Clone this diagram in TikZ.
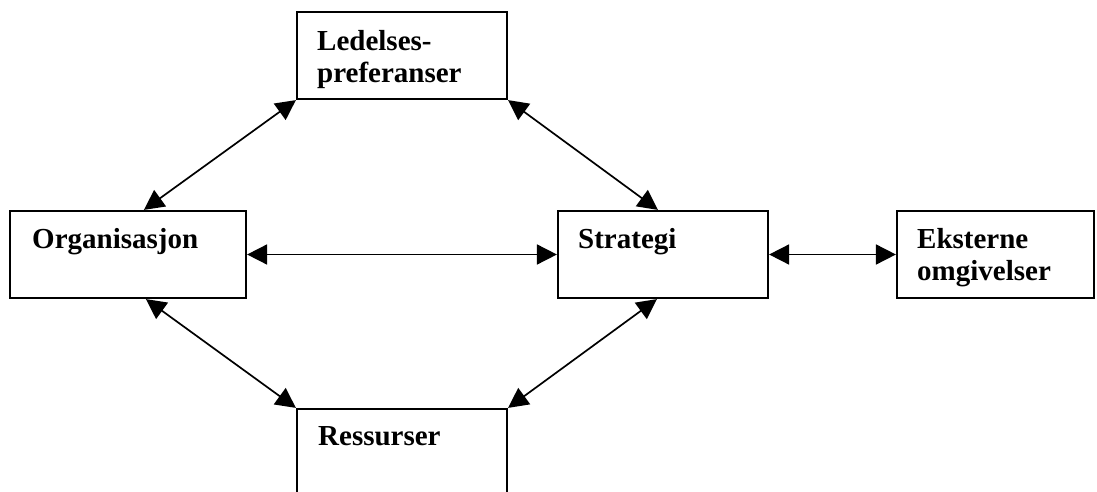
\documentclass[tikz,border=0pt]{standalone}
\usepackage{fontspec}
\setmainfont{Liberation Serif}
\usetikzlibrary{arrows.meta,calc}
\begin{document}
\begin{tikzpicture}[x=1pt,y=-1pt,
  box/.style={draw=black,line width=2.2pt,rectangle,inner sep=0pt},
  lbl/.style={anchor=base west,inner sep=0pt,align=left,
    font=\fontsize{29}{32}\selectfont\bfseries},
  link/.style={line width=1.7pt,{Triangle[length=20pt,width=20pt]}-{Triangle[length=20pt,width=20pt]}}]
\useasboundingbox (0,0) rectangle (1097,492);
\begin{scope}
\clip (0,0) rectangle (1097,492);
% boxes
\node[box,minimum width=210pt,minimum height=87pt] (led) at (402,55.5) {};
\node[box,minimum width=236pt,minimum height=87pt] (org) at (128,254.5) {};
\node[box,minimum width=210pt,minimum height=87pt] (str) at (663,254.5) {};
\node[box,minimum width=197pt,minimum height=87pt] (eks) at (995.5,254.5) {};
\node[box,minimum width=210pt,minimum height=120pt] (res) at (402,469) {};
\end{scope}
% labels (multi-line labels are placed by the baseline of their last line)
\node[lbl] (tled) at (317,83) {Ledelses-\\preferanser};
\node[lbl] (torg) at (32,248) {Organisasjon};
\node[lbl] (tstr) at (578,248) {Strategi};
\node[lbl] (teks) at (917,280) {Eksterne\\omgivelser};
\node[lbl] (tres) at (318,445) {Ressurser};
% connectors
\draw[link] (led.south west) -- ([xshift=135pt]org.north west);
\draw[link] (led.south east) -- ([xshift=101pt]str.north west);
\draw[link] (org.east) -- (str.west);
\draw[link] (str.east) -- (eks.west);
\draw[link] ([xshift=137pt]org.south west) -- (res.north west);
\draw[link] ([xshift=100pt]str.south west) -- (res.north east);
\end{tikzpicture}
\end{document}
